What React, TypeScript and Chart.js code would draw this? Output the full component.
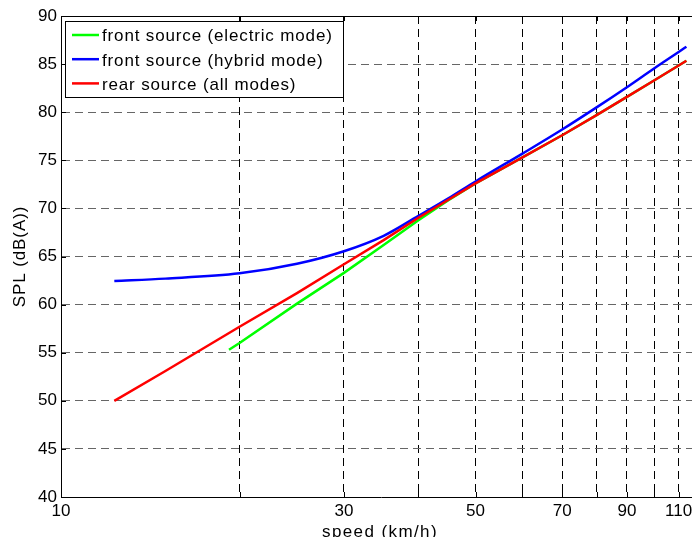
import React, { useEffect, useRef } from 'react';
import { Chart, registerables } from 'chart.js';
Chart.register(...registerables);

// ---- data ----
const redSpeed = [12.3, 15, 20, 25, 30, 35, 40, 45, 50, 60, 70, 80, 90, 100, 113.4];
const redSPL = [50.0, 53.1, 57.7, 61.2, 64.2, 66.7, 69.0, 70.9, 72.6, 75.3, 77.6, 79.7, 81.6, 83.3, 85.35];

const blueSpeed = [12.3, 15, 20, 25, 30, 35, 40, 45, 50, 60, 70, 80, 90, 100, 113.4];
const blueSPL = [62.45, 62.7, 63.25, 64.25, 65.55, 67.15, 69.2, 71.05, 72.8, 75.7, 78.2, 80.5, 82.6, 84.55, 86.8];

const greenSpeed = [19.2, 20, 25, 30, 35, 40, 45, 50, 60, 70, 80, 90, 100, 113.4];
const greenSPL = [55.3, 56.0, 60.1, 63.3, 66.2, 68.75, 70.85, 72.6, 75.3, 77.6, 79.7, 81.6, 83.3, 85.35];

const xTickValues = [10, 20, 30, 40, 50, 60, 70, 80, 90, 100, 110];
const xTickLabels = ['10', '', '30', '', '50', '', '70', '', '90', '', '110'];
const yTickValues = [40, 45, 50, 55, 60, 65, 70, 75, 80, 85, 90];

const legendLabels = ['front source (electric mode)', 'front source (hybrid mode)', 'rear source (all modes)'];
const legendColors = ['#00ff00', '#0000ff', '#ff0000'];
const xTitle = 'speed (km/h)';
const yTitle = 'SPL (dB(A))';

const FONT = '"Liberation Sans", Arial, Helvetica, sans-serif';

export default function App() {
  const ref = useRef<HTMLCanvasElement>(null);

  useEffect(() => {
    const canvas = ref.current;
    if (!canvas) return;
    const toPts = (xs: number[], ys: number[]) => xs.map((x, i) => ({ x, y: ys[i] }));

    const framePlugin = {
      id: 'frame',
      afterDraw(chart: any) {
        const { ctx, chartArea: a, scales } = chart;
        const xs = scales.x;
        const ys = scales.y;
        ctx.save();
        ctx.setLineDash([]);
        ctx.strokeStyle = '#000';
        ctx.lineWidth = 1;
        // top border
        const ty = Math.round(a.top) + 0.5;
        ctx.beginPath();
        ctx.moveTo(a.left, ty);
        ctx.lineTo(a.right, ty);
        ctx.stroke();
        // right border
        const rx = Math.round(a.right) - 0.5;
        ctx.beginPath();
        ctx.moveTo(rx, a.top);
        ctx.lineTo(rx, a.bottom);
        ctx.stroke();
        // inner tick marks
        ctx.beginPath();
        xTickValues.forEach((v) => {
          if (v === 10) return;
          const px = Math.round(xs.getPixelForValue(v)) + 0.5;
          ctx.moveTo(px, a.bottom);
          ctx.lineTo(px, a.bottom - 5);
          ctx.moveTo(px, a.top);
          ctx.lineTo(px, a.top + 5);
        });
        yTickValues.forEach((v) => {
          if (v === 40 || v === 90) return;
          const py = Math.round(ys.getPixelForValue(v)) + 0.5;
          ctx.moveTo(a.left, py);
          ctx.lineTo(a.left + 5, py);
          ctx.moveTo(a.right, py);
          ctx.lineTo(a.right - 5, py);
        });
        ctx.stroke();

        // legend
        const bx = 65.5, by = 21.5, bw = 278, bh = 76;
        ctx.fillStyle = '#fff';
        ctx.fillRect(bx, by, bw, bh);
        ctx.strokeStyle = '#000';
        ctx.lineWidth = 1;
        ctx.strokeRect(bx, by, bw, bh);
        ctx.font = `17px ${FONT}`;
        ctx.textAlign = 'left';
        ctx.textBaseline = 'alphabetic';
        (ctx as any).letterSpacing = '0.85px';
        legendLabels.forEach((lab, i) => {
          const ry = 35 + i * 24.2;
          ctx.strokeStyle = legendColors[i];
          ctx.lineWidth = 2.5;
          ctx.beginPath();
          ctx.moveTo(72, ry);
          ctx.lineTo(99, ry);
          ctx.stroke();
          ctx.fillStyle = '#000';
          ctx.fillText(lab, 102, ry + 6.3);
        });

        // axis titles
        ctx.fillStyle = '#000';
        ctx.textAlign = 'center';
        (ctx as any).letterSpacing = '1.4px';
        ctx.fillText(xTitle, 380, 536.5);
        ctx.save();
        ctx.translate(25, (a.top + a.bottom) / 2);
        ctx.rotate(-Math.PI / 2);
        (ctx as any).letterSpacing = '0.9px';
        ctx.fillText(yTitle, 0, 0);
        ctx.restore();
        (ctx as any).letterSpacing = '0px';
        ctx.restore();
        (ctx as any).letterSpacing = '0px';
      },
    };

    const chart = new Chart(canvas, {
      type: 'line',
      data: {
        datasets: [
          {
            label: legendLabels[2],
            data: toPts(redSpeed, redSPL),
            borderColor: legendColors[2],
            borderWidth: 2.5,
            pointRadius: 0,
            fill: false,
            tension: 0,
          },
          {
            label: legendLabels[1],
            data: toPts(blueSpeed, blueSPL),
            borderColor: legendColors[1],
            borderWidth: 2.5,
            pointRadius: 0,
            fill: false,
            cubicInterpolationMode: 'monotone',
          },
          {
            label: legendLabels[0],
            data: toPts(greenSpeed, greenSPL),
            borderColor: legendColors[0],
            borderWidth: 2.5,
            pointRadius: 0,
            fill: false,
            tension: 0,
          },
        ],
      } as any,
      options: {
        responsive: false,
        animation: false,
        devicePixelRatio: 1,
        events: [],
        layout: { padding: { left: 0, right: 0, top: 16, bottom: 0 } },
        plugins: { legend: { display: false }, tooltip: { enabled: false } },
        scales: {
          x: {
            type: 'logarithmic',
            min: 10,
            max: 120,
            position: 'bottom',
            afterBuildTicks: (s: any) => {
              s.ticks = xTickValues.map((v) => ({ value: v }));
            },
            afterFit: (s: any) => {
              s.height = 40;
            },
            ticks: {
              autoSkip: false,
              maxRotation: 0,
              minRotation: 0,
              padding: 4,
              color: '#000',
              font: { family: FONT, size: 17 },
              callback: (v: any) => {
                const i = xTickValues.indexOf(Number(v));
                return i >= 0 ? xTickLabels[i] : '';
              },
            },
            grid: {
              drawTicks: false,
              lineWidth: 1,
              color: (c: any) => (c.tick && c.tick.value === 10 ? 'rgba(0,0,0,0)' : '#000'),
            },
            border: { display: true, color: '#000', width: 1, dash: [8, 5] },
          },
          y: {
            type: 'linear',
            min: 40,
            max: 90,
            position: 'left',
            afterBuildTicks: (s: any) => {
              s.ticks = yTickValues.map((v) => ({ value: v }));
            },
            afterFit: (s: any) => {
              s.width = 61;
            },
            ticks: {
              padding: 4,
              color: '#000',
              font: { family: FONT, size: 17 },
              callback: (v: any) => String(v),
            },
            grid: {
              drawTicks: false,
              lineWidth: 1,
              color: (c: any) =>
                c.tick && (c.tick.value === 40 || c.tick.value === 90) ? 'rgba(0,0,0,0)' : '#666',
            },
            border: { display: true, color: '#000', width: 1, dash: [8, 5] },
          },
        },
      } as any,
      plugins: [framePlugin],
    });
    return () => chart.destroy();
  }, []);

  return (
    <div
      style={{
        position: 'fixed',
        left: 0,
        top: 0,
        width: 692,
        height: 537,
        overflow: 'hidden',
        background: '#fff',
      }}
    >
      <canvas ref={ref} width={701} height={537} style={{ display: 'block', width: 701, height: 537 }} />
    </div>
  );
}
